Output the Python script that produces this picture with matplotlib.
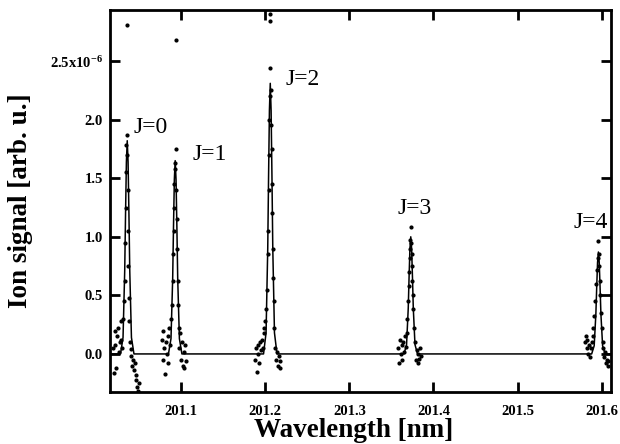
import matplotlib
matplotlib.use("Agg")
import matplotlib.pyplot as plt
from matplotlib.ticker import FixedLocator, FuncFormatter

# fitted curve (wavelength in nm, signal in units of 1e-6)
fit_x_j0 = [201.028, 201.031, 201.033, 201.034, 201.035, 201.036, 201.037, 201.038, 201.039, 201.041, 201.044]
fit_y_j0 = [0, 0.14, 0.71, 1.20, 1.64, 1.82, 1.64, 1.20, 0.71, 0.14, 0]
fit_x_j1 = [201.085, 201.088, 201.090, 201.091, 201.092, 201.093, 201.094, 201.095, 201.096, 201.098, 201.101]
fit_y_j1 = [0, 0.13, 0.64, 1.09, 1.49, 1.65, 1.49, 1.09, 0.64, 0.13, 0]
fit_x_j2 = [201.198, 201.201, 201.203, 201.204, 201.205, 201.206, 201.207, 201.208, 201.209, 201.211, 201.214]
fit_y_j2 = [0, 0.18, 0.90, 1.52, 2.08, 2.31, 2.08, 1.52, 0.90, 0.18, 0]
fit_x_j3 = [201.365, 201.368, 201.370, 201.371, 201.372, 201.373, 201.374, 201.375, 201.376, 201.378, 201.381]
fit_y_j3 = [0, 0.08, 0.39, 0.66, 0.90, 1.00, 0.90, 0.66, 0.39, 0.08, 0]
fit_x_j4 = [201.588, 201.591, 201.593, 201.594, 201.595, 201.596, 201.597, 201.598, 201.599, 201.601, 201.604]
fit_y_j4 = [0, 0.07, 0.34, 0.57, 0.78, 0.87, 0.78, 0.57, 0.34, 0.07, 0]
fit_start = (201.010, 0.0)
fit_end = (201.620, 0.0)

# measured points
dots_j0 = [(201.019, 0.05), (201.020, -0.16), (201.021, 0.20), (201.022, 0.08), (201.023, -0.12),
           (201.024, 0.15), (201.025, 0.22), (201.026, 0.02), (201.027, 0.10), (201.028, 0.28),
           (201.029, 0.12), (201.030, 0.05), (201.031, 0.30), (201.032, 0.45), (201.033, 0.62),
           (201.0335, 0.95), (201.034, 1.25), (201.0345, 1.55), (201.035, 1.78), (201.0355, 1.87),
           (201.036, 1.70), (201.0365, 1.40), (201.037, 1.05), (201.0375, 0.75), (201.038, 0.48),
           (201.0385, 0.28), (201.039, 0.10), (201.040, 0.04), (201.041, -0.02), (201.042, -0.10),
           (201.043, -0.05), (201.044, -0.14), (201.045, -0.08), (201.046, -0.18), (201.047, -0.22),
           (201.048, -0.28), (201.049, -0.32), (201.050, -0.25), (201.0357, 2.81)]
dots_j1 = [(201.077, 0.12), (201.078, -0.05), (201.079, 0.20), (201.080, 0.05), (201.081, -0.17),
           (201.082, 0.10), (201.083, 0.0), (201.084, 0.15), (201.085, -0.08), (201.086, 0.22),
           (201.087, 0.08), (201.088, 0.30), (201.089, 0.42), (201.090, 0.62), (201.0905, 0.85),
           (201.091, 1.05), (201.0915, 1.25), (201.092, 1.45), (201.0925, 1.58), (201.093, 1.63),
           (201.094, 1.75), (201.0945, 1.40), (201.095, 1.15), (201.0955, 0.90), (201.096, 0.62),
           (201.0965, 0.42), (201.097, 0.22), (201.098, 0.05), (201.099, 0.18), (201.100, -0.05),
           (201.101, 0.10), (201.102, -0.10), (201.103, 0.02), (201.104, -0.12), (201.105, 0.08),
           (201.106, -0.06), (201.094, 2.68)]
dots_j2 = [(201.188, -0.05), (201.189, 0.05), (201.190, -0.15), (201.191, 0.08), (201.192, 0.0),
           (201.193, -0.08), (201.194, 0.10), (201.195, 0.03), (201.196, 0.12), (201.197, 0.05),
           (201.198, 0.18), (201.199, 0.22), (201.200, 0.28), (201.201, 0.38), (201.202, 0.55),
           (201.203, 0.85), (201.2035, 1.05), (201.204, 1.40), (201.2045, 1.70), (201.205, 2.00),
           (201.2055, 2.20), (201.206, 2.44), (201.2065, 2.25), (201.207, 1.95), (201.2075, 1.75),
           (201.208, 1.45), (201.2085, 1.20), (201.209, 0.90), (201.2095, 0.65), (201.210, 0.45),
           (201.211, 0.22), (201.212, 0.05), (201.213, -0.05), (201.214, 0.02), (201.215, -0.10),
           (201.216, -0.02), (201.217, -0.12), (201.218, -0.06), (201.206, 2.90), (201.206, 2.84)]
dots_j3 = [(201.358, 0.05), (201.359, -0.08), (201.360, 0.12), (201.361, 0.0), (201.362, 0.08),
           (201.363, -0.05), (201.364, 0.10), (201.365, 0.02), (201.366, 0.15), (201.367, 0.06),
           (201.368, 0.18), (201.369, 0.30), (201.370, 0.45), (201.3705, 0.58), (201.371, 0.70),
           (201.3715, 0.82), (201.372, 0.90), (201.3725, 0.97), (201.373, 1.085), (201.3735, 0.95),
           (201.374, 0.85), (201.3745, 0.75), (201.375, 0.62), (201.3755, 0.50), (201.376, 0.38),
           (201.377, 0.22), (201.378, 0.10), (201.379, -0.05), (201.380, 0.03), (201.381, -0.08),
           (201.382, 0.0), (201.383, -0.04), (201.384, 0.05), (201.385, -0.02)]
dots_j4 = [(201.580, 0.10), (201.581, 0.15), (201.582, 0.05), (201.583, 0.12), (201.584, 0.0),
           (201.585, 0.08), (201.586, -0.03), (201.587, 0.05), (201.588, 0.10), (201.589, 0.15),
           (201.590, 0.22), (201.591, 0.32), (201.592, 0.45), (201.593, 0.60), (201.594, 0.72),
           (201.595, 0.82), (201.596, 0.96), (201.5965, 0.85), (201.597, 0.75), (201.5975, 0.62),
           (201.598, 0.50), (201.599, 0.35), (201.600, 0.22), (201.601, 0.10), (201.602, 0.05),
           (201.603, -0.03), (201.604, 0.02), (201.605, -0.08), (201.606, -0.05), (201.607, -0.10),
           (201.6075, -0.06)]

# peak labels: text, wavelength, signal
labels = ["J=0", "J=1", "J=2", "J=3", "J=4"]
label_x = [201.043, 201.114, 201.224, 201.357, 201.567]
label_y = [1.93, 1.70, 2.34, 1.24, 1.12]

x_ticks = [201.1, 201.2, 201.3, 201.4, 201.5, 201.6]
y_ticks = [0.0, 0.5, 1.0, 1.5, 2.0, 2.5]

plt.rcParams['font.family'] = ['Liberation Serif', 'DejaVu Serif']
plt.rcParams['mathtext.fontset'] = 'custom'
plt.rcParams['mathtext.rm'] = 'Liberation Serif:bold'
plt.rcParams['mathtext.it'] = 'Liberation Serif:bold'
plt.rcParams['mathtext.bf'] = 'Liberation Serif:bold'

fig = plt.figure(figsize=(6.2, 4.44), dpi=100)
ax = fig.add_axes([0.1774, 0.1171, 0.8081, 0.8604])

# fit line over whole range
fx = [fit_start[0]] + fit_x_j0 + fit_x_j1 + fit_x_j2 + fit_x_j3 + fit_x_j4 + [fit_end[0]]
fy = [fit_start[1]] + fit_y_j0 + fit_y_j1 + fit_y_j2 + fit_y_j3 + fit_y_j4 + [fit_end[1]]
ax.plot(fx, fy, color='black', lw=1.1)

all_dots = dots_j0 + dots_j1 + dots_j2 + dots_j3 + dots_j4
ax.scatter([d[0] for d in all_dots], [d[1] for d in all_dots], s=4, color='black', zorder=3)

for t, lx, ly in zip(labels, label_x, label_y):
    ax.text(lx, ly, t, fontsize=17, va='center', ha='left')

ax.set_xlim(201.0155, 201.611)
ax.set_ylim(-0.325, 2.936)

ax.xaxis.set_major_locator(FixedLocator(x_ticks))
ax.yaxis.set_major_locator(FixedLocator(y_ticks))


def fmt_y(v, pos):
    if abs(v - 2.5) < 1e-9:
        return "2.5x10$^{-6}$"
    return "%.1f" % v


ax.yaxis.set_major_formatter(FuncFormatter(fmt_y))
ax.xaxis.set_major_formatter(FuncFormatter(lambda v, p: "%.1f" % v))

ax.tick_params(direction='in', length=7, width=2, top=True, right=True, labelsize=10.5)
ax.tick_params(axis='x', pad=9)
ax.tick_params(axis='y', pad=5)
for lab in ax.get_xticklabels() + ax.get_yticklabels():
    lab.set_fontweight('bold')
for sp in ax.spines.values():
    sp.set_linewidth(2)

ax.set_xlabel("Wavelength [nm]", fontsize=19.5, fontweight='bold', va='baseline')
ax.xaxis.set_label_coords(0.487, -0.118)
ax.set_ylabel("Ion signal [arb. u.]", fontsize=19.5, fontweight='bold', labelpad=12)

fig.savefig("out.png", dpi=100)
